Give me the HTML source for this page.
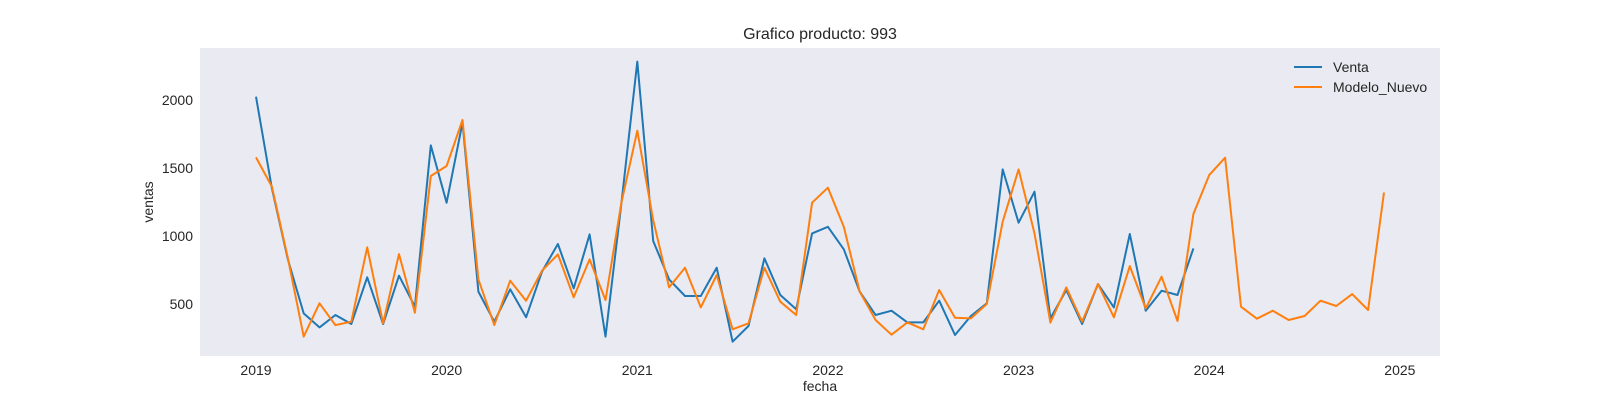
<!DOCTYPE html>
<html><head><meta charset="utf-8"><style>
body{margin:0;background:#fff;}
svg text{font-family:"Liberation Sans","DejaVu Sans",sans-serif;fill:#262626;}
</style></head><body>
<svg id="chart" width="1600" height="400" xmlns="http://www.w3.org/2000/svg">
<rect x="0" y="0" width="1600" height="400" fill="#fff"/>
<rect x="200" y="48" width="1240" height="308" fill="#EAEAF2"/>
<text x="820" y="39" font-size="16" text-anchor="middle">Grafico producto: 993</text>
<text x="820" y="391" font-size="14" text-anchor="middle">fecha</text>
<text x="0" y="0" font-size="14" text-anchor="middle" transform="translate(153,202) rotate(-90)">ventas</text>
<g id="xticks"></g><g id="yticks"></g><g id="series"></g>
<g>
<line x1="1294" y1="67" x2="1322" y2="67" stroke="#1f77b4" stroke-width="2"/>
<text x="1333" y="72" font-size="14">Venta</text>
<line x1="1294" y1="87" x2="1322" y2="87" stroke="#ff7f0e" stroke-width="2"/>
<text x="1333" y="92" font-size="14">Modelo_Nuevo</text>
</g>
</svg>
<script>
const yearTicks = [2019, 2020, 2021, 2022, 2023, 2024, 2025];
const valueTicks = [500, 1000, 1500, 2000];
const ventaValues = [2024,1350,830,431,328,419,353,696,353,708,480,1666,1245,1833,591,370,608,402,738,941,615,1012,260,1240,2282,963,681,559,559,767,223,338,836,566,461,1019,1068,902,591,419,451,365,365,524,272,412,505,1490,1098,1326,394,603,353,647,475,1015,451,598,566,909];
const modeloValues = [1578,1363,840,260,505,345,370,916,358,867,436,1441,1515,1853,681,345,671,524,745,865,549,828,529,1245,1774,1117,622,767,475,713,314,358,767,517,419,1245,1355,1068,591,382,274,365,314,603,399,394,500,1105,1490,1019,363,622,370,647,402,779,468,701,375,1162,1448,1576,480,392,451,382,412,524,485,573,456,1320];
const NS='http://www.w3.org/2000/svg';
function xScale(monthIdx){ return 256 + monthIdx * (1384-256)/71; }
function yScale(v){ return 100 + (2000 - v) * 68/500; }
const xt=document.getElementById('xticks');
yearTicks.forEach(y=>{
  const t=document.createElementNS(NS,'text');
  t.setAttribute('x', xScale((y-2019)*12)); t.setAttribute('y', 375);
  t.setAttribute('font-size','14'); t.setAttribute('text-anchor','middle');
  t.textContent=y;
  
  
  xt.appendChild(t);
});
const yt=document.getElementById('yticks');
valueTicks.forEach(v=>{
  const t=document.createElementNS(NS,'text');
  t.setAttribute('x', 193); t.setAttribute('y', yScale(v)+5);
  t.setAttribute('font-size','14'); t.setAttribute('text-anchor','end');
  t.textContent=v;
  
  
  yt.appendChild(t);
});
const sg=document.getElementById('series');
function drawLine(vals,color,name){
  const p=document.createElementNS(NS,'polyline');
  p.setAttribute('points', vals.map((v,i)=>xScale(i).toFixed(1)+','+yScale(v).toFixed(1)).join(' '));
  p.setAttribute('fill','none'); p.setAttribute('stroke',color); p.setAttribute('stroke-width','2');
  p.setAttribute('stroke-linejoin','round');
  
  
  sg.appendChild(p);
}
drawLine(ventaValues,'#1f77b4','venta-line');
drawLine(modeloValues,'#ff7f0e','modelo-nuevo-line');
</script>
</body></html>
